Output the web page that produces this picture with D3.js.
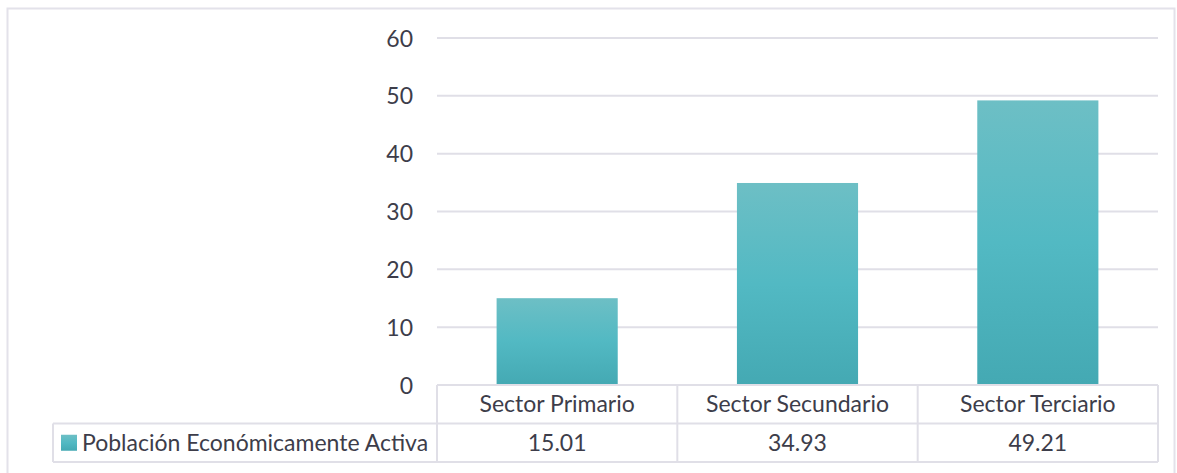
<!DOCTYPE html>
<html>
<head>
<meta charset="utf-8">
<script src="https://cdn.jsdelivr.net/npm/d3@7"></script>
<style>
  html, body { margin: 0; padding: 0; background: #fff; }
  svg { display: block; }
  text { font-family: Lato, "Open Sans", sans-serif; fill: #3d3d4a; }
</style>
</head>
<body>
<svg id="chart" width="1177" height="473"></svg>
<script>
// Data
const categories = ["Sector Primario", "Sector Secundario", "Sector Terciario"];
const seriesName = "Población Económicamente Activa";
const seriesValues = [15.01, 34.93, 49.21];
const yTicks = [0, 10, 20, 30, 40, 50, 60];

const svg = d3.select("#chart");
const FS = 23;

const plot = { left: 437, right: 1158, top: 38, bottom: 385 };
const rowH = 38.5;
const legendLeft = 53;
const gridColor = "#e0dfe7";

// Outer frame
svg.append("rect")
  .attr("x", 7.5).attr("y", 8.5)
  .attr("width", 1167).attr("height", 480)
  .attr("fill", "none").attr("stroke", "#e3e2ea").attr("stroke-width", 2);

const x = d3.scaleBand().domain(categories)
  .range([plot.left, plot.right]).paddingInner(0).paddingOuter(0);
const y = d3.scaleLinear().domain([0, 60]).range([plot.bottom, plot.top]);

// Gradient for bars
const defs = svg.append("defs");
const grad = defs.append("linearGradient").attr("id", "barGrad")
  .attr("x1", 0).attr("y1", 0).attr("x2", 0).attr("y2", 1);
grad.append("stop").attr("offset", "0%").attr("stop-color", "#6dbfc5");
grad.append("stop").attr("offset", "50%").attr("stop-color", "#52b9c3");
grad.append("stop").attr("offset", "100%").attr("stop-color", "#44a9b3");

// Gridlines
svg.append("g").selectAll("line").data(yTicks.filter(d => d > 0)).join("line")
  .attr("x1", plot.left).attr("x2", plot.right)
  .attr("y1", d => y(d)).attr("y2", d => y(d))
  .attr("stroke", gridColor).attr("stroke-width", 2);

// Y axis labels
const yAxis = d3.axisLeft(y).tickValues(yTicks).tickSize(0).tickPadding(0);
const yg = svg.append("g").attr("transform", `translate(${413},0)`).call(yAxis);
yg.select(".domain").remove();
yg.selectAll("text").attr("font-size", FS).attr("dy", "0.35em")
  .style("font-family", "Lato, 'Open Sans', sans-serif").attr("fill", "#3d3d4a");

// Bars
const barW = x.bandwidth() * 0.504;
svg.append("g").selectAll("rect").data(seriesValues).join("rect")
  .attr("x", (d, i) => x(categories[i]) + (x.bandwidth() - barW) / 2)
  .attr("width", barW)
  .attr("y", d => y(d))
  .attr("height", d => y(0) - y(d))
  .attr("fill", "url(#barGrad)");

// Data table
const tbl = svg.append("g");
const t0 = plot.bottom, t1 = t0 + rowH, t2 = t1 + rowH;
const lines = [
  [plot.left, t0, plot.right, t0],
  [legendLeft, t1, plot.right, t1],
  [legendLeft, t2, plot.right, t2],
  [legendLeft, t1, legendLeft, t2],
];
categories.forEach(c => lines.push([x(c), t0, x(c), t2]));
lines.push([plot.right, t0, plot.right, t2]);
tbl.selectAll("line").data(lines).join("line")
  .attr("x1", d => d[0]).attr("y1", d => d[1])
  .attr("x2", d => d[2]).attr("y2", d => d[3])
  .attr("stroke", gridColor).attr("stroke-width", 2);

// Category labels
tbl.append("g").selectAll("text").data(categories).join("text")
  .attr("x", d => x(d) + x.bandwidth() / 2)
  .attr("y", (t0 + t1) / 2).attr("dy", "0.35em")
  .attr("text-anchor", "middle").attr("font-size", FS)
  .text(d => d);

// Values row
tbl.append("g").selectAll("text").data(seriesValues).join("text")
  .attr("x", (d, i) => x(categories[i]) + x.bandwidth() / 2)
  .attr("y", (t1 + t2) / 2).attr("dy", "0.35em")
  .attr("text-anchor", "middle").attr("font-size", FS)
  .text(d => d3.format(".2f")(d));

// Legend key + series name
tbl.append("rect")
  .attr("x", 61).attr("y", (t1 + t2) / 2 - 8)
  .attr("width", 16).attr("height", 16)
  .attr("fill", "url(#barGrad)");
tbl.append("text")
  .attr("x", 82).attr("y", (t1 + t2) / 2).attr("dy", "0.35em")
  .attr("font-size", FS)
  .text(seriesName);
</script>
</body>
</html>
